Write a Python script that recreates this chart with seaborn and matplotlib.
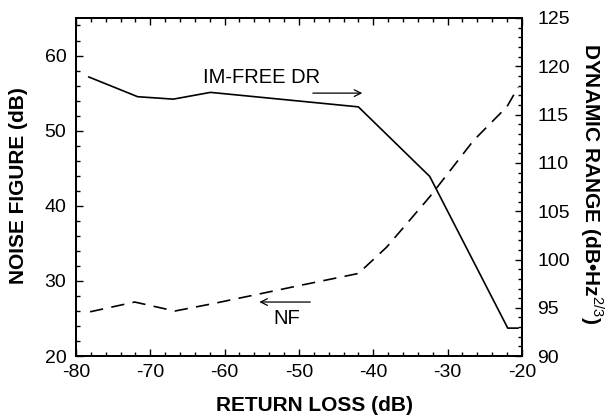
import numpy as np
import pandas as pd
import matplotlib
matplotlib.use("Agg")
import matplotlib.pyplot as plt
from matplotlib.ticker import MultipleLocator
import seaborn as sns

# values
return_loss_nf = [-78.1, -72.1, -66.7, -61.5, -55.2, -49.9, -42.0, -38.2, -32.4, -26.5, -22.0, -20.5]
noise_figure = [25.9, 27.2, 26.0, 27.0, 28.3, 29.4, 31.0, 34.5, 41.2, 48.7, 53.2, 55.8]

return_loss_dr = [-78.3, -71.7, -66.9, -61.9, -42.0, -32.4, -21.9, -20.5]
dynamic_range = [118.9, 116.85, 116.6, 117.3, 115.8, 108.6, 92.9, 92.9]

sns.set_theme(style="ticks")
plt.rcParams['font.family'] = ['Liberation Sans', 'DejaVu Sans']
plt.rcParams['mathtext.fontset'] = 'custom'
plt.rcParams['mathtext.rm'] = 'Liberation Sans'
plt.rcParams['mathtext.bf'] = 'Liberation Sans:bold'
plt.rcParams['axes.unicode_minus'] = False
plt.rcParams['text.color'] = 'black'
plt.rcParams['axes.labelcolor'] = 'black'

fig = plt.figure(figsize=(6.05, 4.18), dpi=100)
ax = fig.add_axes([0.1256, 0.148, 0.737, 0.809])
ax2 = ax.twinx()

nf = pd.DataFrame({'rl': return_loss_nf, 'nf': noise_figure})
dr = pd.DataFrame({'rl': return_loss_dr, 'dr': dynamic_range})

sns.lineplot(data=nf, x='rl', y='nf', ax=ax, color='black', lw=1.2,
             estimator=None, sort=False)
ax.lines[-1].set_dashes((8, 5))
sns.lineplot(data=dr, x='rl', y='dr', ax=ax2, color='black', lw=1.2,
             estimator=None, sort=False)

ax.set_xlim(-80, -20)
ax.set_ylim(20, 65)
ax2.set_ylim(90, 125)

ax.xaxis.set_major_locator(MultipleLocator(10))
ax.xaxis.set_minor_locator(MultipleLocator(2))
ax.yaxis.set_major_locator(MultipleLocator(10))
ax.yaxis.set_minor_locator(MultipleLocator(2))
ax2.yaxis.set_major_locator(MultipleLocator(5))
ax2.yaxis.set_minor_locator(MultipleLocator(1))

for a in (ax, ax2):
    a.tick_params(which='both', direction='in', colors='black', labelsize=14, width=1)
    a.tick_params(which='major', length=5)
    a.tick_params(which='minor', length=3)
    for s in a.spines.values():
        s.set_linewidth(1.4)
        s.set_color('black')
ax.tick_params(which='both', top=True, right=False)
ax.tick_params(axis='x', pad=6)
ax.tick_params(axis='y', pad=7)
ax2.tick_params(which='both', left=False, right=True, pad=11)

ax.set_xlabel('RETURN LOSS (dB)', fontsize=15, fontweight='bold')
ax.xaxis.set_label_coords(0.534, -0.145)
ax.xaxis.label.set_va('center')
ax.set_ylabel('NOISE FIGURE (dB)', fontsize=15, fontweight='bold')
ax.yaxis.set_label_coords(-0.128, 0.503)
ax.yaxis.label.set_va('center')
ax2.set_ylabel(r'DYNAMIC RANGE (dB•Hz$^{2/3}$)', fontsize=15, fontweight='bold',
               rotation=-90)
ax2.yaxis.set_label_coords(1.157, 0.509)
ax2.yaxis.label.set_va('center')
ax2.yaxis.label.set_ha('center')

# annotations
ax.text(-62.9, 57.1, 'IM-FREE DR', fontsize=14.5, va='center', ha='left')
ax.annotate('', xy=(-41.1, 55.0), xytext=(-48.5, 55.0),
            arrowprops=dict(arrowstyle='->', color='black', lw=0.9))
ax.text(-53.5, 25.0, 'NF', fontsize=14.5, va='center', ha='left')
ax.annotate('', xy=(-55.7, 27.2), xytext=(-48.1, 27.2),
            arrowprops=dict(arrowstyle='->', color='black', lw=0.9))

fig.savefig('out.png', dpi=100)
